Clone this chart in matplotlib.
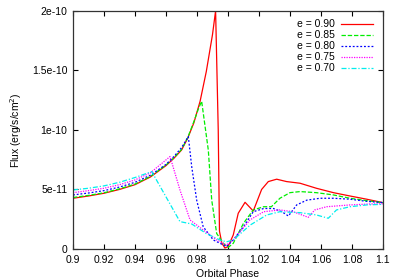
import matplotlib
matplotlib.use('Agg')
import matplotlib.pyplot as plt
from matplotlib.ticker import FixedLocator, FixedFormatter

plt.rcParams['font.family'] = ['Liberation Sans', 'DejaVu Sans']

# flux in units of 1e-10 erg/s/cm^2
ph90 = [0.900, 0.910, 0.920, 0.930, 0.940, 0.950, 0.960, 0.965, 0.970, 0.974, 0.978, 0.982,
        0.986, 0.990, 0.992, 0.9937, 0.9945, 0.996, 0.998, 1.000, 1.0034, 1.0066, 1.011, 1.0163,
        1.0217, 1.026, 1.0314, 1.0378, 1.0465, 1.057, 1.068, 1.0787, 1.0895, 1.100]
fx90 = [0.426, 0.445, 0.468, 0.50, 0.54, 0.605, 0.70, 0.76, 0.83, 0.93, 1.06, 1.24,
        1.49, 1.80, 2.0, 1.0, 0.15, 0.05, 0.008, 0.02, 0.118, 0.30, 0.392, 0.319,
        0.50, 0.566, 0.586, 0.566, 0.552, 0.51, 0.473, 0.445, 0.418, 0.389]

ph85 = [0.900, 0.910, 0.920, 0.930, 0.940, 0.950, 0.960, 0.965, 0.970, 0.974, 0.978, 0.981, 0.983,
        0.9873, 0.9895, 0.9927, 0.997, 1.0002, 1.0034, 1.010, 1.0163, 1.023, 1.028, 1.0335,
        1.040, 1.0465, 1.057, 1.068, 1.0787, 1.0895, 1.100]
fx85 = [0.432, 0.45, 0.472, 0.505, 0.545, 0.61, 0.705, 0.765, 0.835, 0.935, 1.07, 1.18, 1.24,
        0.83, 0.41, 0.13, 0.048, 0.014, 0.048, 0.216, 0.328, 0.355, 0.355, 0.426,
        0.473, 0.482, 0.473, 0.454, 0.426, 0.406, 0.389]

ph80 = [0.900, 0.910, 0.920, 0.930, 0.940, 0.950, 0.960, 0.965, 0.970, 0.9744, 0.9766, 0.9798,
        0.984, 0.9905, 0.997, 0.999, 1.0034, 1.010, 1.0163, 1.023, 1.0293, 1.0347, 1.039,
        1.0443, 1.0508, 1.0594, 1.068, 1.0787, 1.0895, 1.100]
fx80 = [0.454, 0.47, 0.49, 0.52, 0.56, 0.62, 0.71, 0.775, 0.85, 0.944, 0.69, 0.41,
        0.187, 0.076, 0.034, 0.02, 0.076, 0.187, 0.313, 0.34, 0.34, 0.313, 0.277,
        0.37, 0.41, 0.426, 0.426, 0.418, 0.40, 0.39]

ph75 = [0.900, 0.910, 0.920, 0.930, 0.940, 0.950, 0.9626, 0.969, 0.9755, 0.984, 0.9927, 0.999,
        1.0034, 1.0142, 1.023, 1.0335, 1.042, 1.0518, 1.056, 1.0637, 1.0787, 1.0895, 1.100]
fx75 = [0.473, 0.49, 0.51, 0.54, 0.58, 0.64, 0.776, 0.496, 0.244, 0.16, 0.076, 0.034,
        0.076, 0.244, 0.313, 0.328, 0.313, 0.266, 0.328, 0.355, 0.37, 0.377, 0.38]

ph70 = [0.900, 0.910, 0.920, 0.930, 0.940, 0.9508, 0.969, 0.9766, 0.986, 0.9948, 0.999,
        1.0034, 1.0142, 1.025, 1.0335, 1.0465, 1.057, 1.0647, 1.070, 1.0787, 1.0895, 1.100]
fx70 = [0.496, 0.51, 0.53, 0.56, 0.60, 0.65, 0.23, 0.21, 0.13, 0.076, 0.06,
        0.076, 0.2, 0.286, 0.313, 0.305, 0.286, 0.258, 0.328, 0.355, 0.37, 0.375]

labels = ["e = 0.90", "e = 0.85", "e = 0.80", "e = 0.75", "e = 0.70"]
xticks = [0.9, 0.92, 0.94, 0.96, 0.98, 1.0, 1.02, 1.04, 1.06, 1.08, 1.1]
xticklabels = ["0.9", "0.92", "0.94", "0.96", "0.98", "1", "1.02", "1.04", "1.06", "1.08", "1.1"]
yticks = [0, 5e-11, 1e-10, 1.5e-10, 2e-10]
yticklabels = ["0", "5e-11", "1e-10", "1.5e-10", "2e-10"]

fig = plt.figure(figsize=(4.0, 2.79), dpi=100)
ax = fig.add_axes([0.1825, 0.1075, 0.775, 0.854])

lw = 0.9
ax.plot(ph90, [v * 1e-10 for v in fx90], color='#ff0000', lw=lw, ls='-', label=labels[0])
ax.plot(ph85, [v * 1e-10 for v in fx85], color='#00ee00', lw=lw, ls=(0, (3.5, 1.5)), label=labels[1])
ax.plot(ph80, [v * 1e-10 for v in fx80], color='#0000ff', lw=lw, ls=(0, (1.5, 1.5)), label=labels[2])
ax.plot(ph75, [v * 1e-10 for v in fx75], color='#ff00ff', lw=lw, ls=(0, (1, 1)), label=labels[3])
ax.plot(ph70, [v * 1e-10 for v in fx70], color='#00eeee', lw=lw, ls=(0, (4, 1.5, 1, 1.5)), label=labels[4])

ax.set_xlim(0.9, 1.1)
ax.set_ylim(0, 2e-10)
ax.xaxis.set_major_locator(FixedLocator(xticks))
ax.xaxis.set_major_formatter(FixedFormatter(xticklabels))
ax.yaxis.set_major_locator(FixedLocator(yticks))
ax.yaxis.set_major_formatter(FixedFormatter(yticklabels))
ax.tick_params(direction='in', length=3.5, width=0.8, labelsize=7.5, top=True, right=True, pad=4)

for s in ax.spines.values():
    s.set_linewidth(0.9)
    s.set_color('#333333')

ax.set_xlabel('Orbital Phase', fontsize=7.5, labelpad=3)
ax.set_ylabel('Flux (erg/s/cm$^2$)', fontsize=7.5, labelpad=6)

leg = ax.legend(loc='upper right', frameon=False, fontsize=7.5, markerfirst=False,
                handlelength=3.0, handletextpad=0.6, labelspacing=0.1,
                borderaxespad=0.3, bbox_to_anchor=(0.99, 0.995))

fig.savefig('out.png', dpi=100)
